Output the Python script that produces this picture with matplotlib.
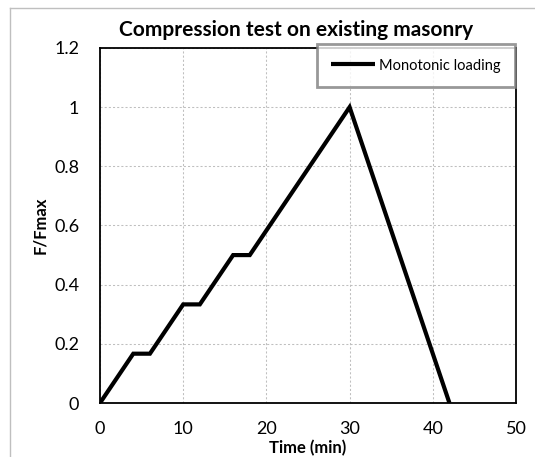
import matplotlib
matplotlib.use("Agg")
import matplotlib.pyplot as plt
from matplotlib.lines import Line2D

time_min = [0, 4, 6, 10, 12, 16, 18, 30, 42]
f_ratio = [0, 1/6, 1/6, 1/3, 1/3, 0.5, 0.5, 1.0, 0]
series_label = "Monotonic loading"
x_ticks = [0, 10, 20, 30, 40, 50]
y_ticks = [0, 0.2, 0.4, 0.6, 0.8, 1.0, 1.2]
y_tick_labels = ["0", "0.2", "0.4", "0.6", "0.8", "1", "1.2"]

plt.rcParams['font.family'] = ['Lato', 'DejaVu Sans']

W, H = 535, 457
fig = plt.figure(figsize=(W/100, H/100), dpi=100)
ax = fig.add_axes([100/W, 1-403/H, 416/W, 355/H])

ax.plot(time_min, f_ratio, color='black', lw=3.0, label=series_label,
        solid_joinstyle='miter', solid_capstyle='butt', zorder=3)
ax.set_xlim(0, 50)
ax.set_ylim(0, 1.2)
ax.set_xticks(x_ticks)
ax.set_xticklabels([str(v) for v in x_ticks])
ax.set_yticks(y_ticks)
ax.set_yticklabels(y_tick_labels)
ax.tick_params(length=0, labelsize=13, pad=13)
ax.tick_params(axis='y', pad=15)
ax.grid(True, color='#bfbfbf', linestyle=(0, (2, 2)), lw=0.75)
for s in ax.spines.values():
    s.set_linewidth(1.3)
    s.set_color('black')

ax.set_xlabel("Time (min)", fontsize=12, fontweight='bold', labelpad=2)
ax.set_ylabel("F/Fmax", fontsize=12, fontweight='bold', labelpad=4)
fig.text(296/W, 1-30/H, "Compression test on existing masonry", fontsize=15,
         fontweight='bold', ha='center', va='center')

leg = ax.legend(loc='upper right', bbox_to_anchor=(515/W, 1-44/H),
                bbox_transform=fig.transFigure, fontsize=10.5, fancybox=False,
                frameon=True, handlelength=3.0, handletextpad=0.25,
                borderpad=1.0, borderaxespad=0)
leg.get_frame().set_edgecolor('#7f7f7f')
leg.get_frame().set_linewidth(2)

# outer chart-area border
fig.add_artist(Line2D([10/W, 10/W], [0, 1-8/H], color='#bfbfbf', lw=1.0,
                      transform=fig.transFigure))
fig.add_artist(Line2D([10/W, 1], [1-8/H, 1-8/H], color='#bfbfbf', lw=1.0,
                      transform=fig.transFigure))

fig.savefig("out.png", dpi=100)
